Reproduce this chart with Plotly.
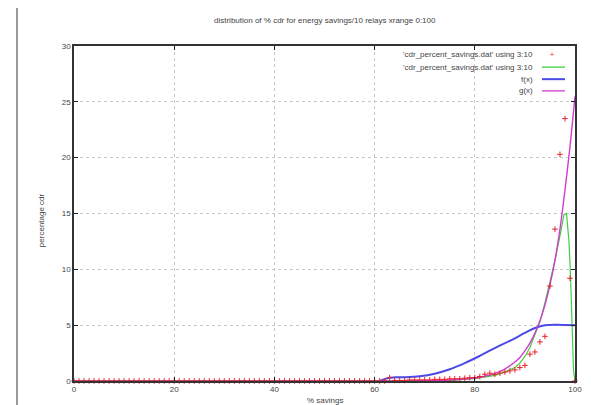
import plotly.graph_objects as go

# ---- data ----
pts_x = list(range(0, 101))
pts_y = [
    0, 0, 0, 0, 0, 0, 0, 0, 0, 0,
    0, 0, 0, 0, 0, 0, 0, 0, 0, 0,
    0, 0, 0, 0, 0, 0, 0, 0, 0, 0,
    0, 0, 0, 0, 0, 0, 0, 0, 0, 0,
    0, 0, 0, 0, 0, 0, 0, 0, 0, 0,
    0, 0, 0, 0, 0, 0, 0, 0, 0, 0,
    0, 0, 0, 0.3, 0.05, 0.05, 0.05, 0.1, 0.1, 0.1,
    0.1, 0.1, 0.15, 0.15, 0.15, 0.2, 0.2, 0.2, 0.25, 0.3,
    0.3, 0.4, 0.6, 0.7, 0.6, 0.7, 0.8, 0.9, 1.0, 1.2,
    1.4, 2.4, 2.6, 3.5, 4.0, 8.5, 13.6, 20.3, 23.5, 9.2,
    0,
]

smooth_x = [0, 60, 70, 75, 80, 84, 86, 88, 89, 90, 91, 92, 93, 94, 95, 96, 97,
            97.8, 98.3, 98.8, 99.1, 99.4, 99.7, 100]
smooth_y = [0, 0, 0.02, 0.05, 0.2, 0.5, 0.8, 1.2, 1.6, 2.2, 3.0, 4.1, 5.3, 7.0,
            8.8, 10.8, 13.0, 14.9, 15.0, 12.5, 9.5, 5.0, 1.0, 0]

f_x = [61, 63, 66, 69, 72, 75, 78, 81, 84, 87, 90, 92, 94, 100]
f_y = [0, 0.3, 0.33, 0.42, 0.65, 1.05, 1.6, 2.25, 2.95, 3.6, 4.3, 4.75, 5.0, 5.0]

g_x = [0, 60, 70, 75, 80, 82, 84, 86, 88, 89, 90, 91, 92, 93, 94, 95, 96, 97,
       98, 99, 99.5, 100]
g_y = [0, 0.01, 0.03, 0.09, 0.27, 0.43, 0.68, 1.07, 1.7, 2.1, 2.7, 3.4, 4.3,
       5.4, 6.8, 8.6, 10.8, 13.6, 17.1, 21.0, 23.2, 25.5]

x_ticks = [0, 20, 40, 60, 80, 100]
y_ticks = [0, 5, 10, 15, 20, 25, 30]

title_text = "distribution of % cdr for energy savings/10 relays xrange 0:100"
x_title = "% savings"
y_title = "percentage cdr"
legend_labels = ["'cdr_percent_savings.dat' using 3:10",
                 "'cdr_percent_savings.dat' using 3:10",
                 "f(x)", "g(x)"]

RED = "#e8202a"
GREEN = "#3fcf3f"
BLUE = "#4a4ae6"
MAGENTA = "#d23ad2"
FONT = dict(family="Liberation Sans, Arial, sans-serif", size=8, color="#444")

fig = go.Figure()
fig.add_trace(go.Scatter(x=smooth_x, y=smooth_y, mode="lines",
                         line=dict(color=GREEN, width=1.2), showlegend=False))
fig.add_trace(go.Scatter(x=f_x, y=f_y, mode="lines", line_shape="spline",
                         line=dict(color=BLUE, width=2), showlegend=False))
fig.add_trace(go.Scatter(x=g_x, y=g_y, mode="lines", line_shape="spline",
                         line=dict(color=MAGENTA, width=1.4), showlegend=False))
fig.add_trace(go.Scatter(x=pts_x, y=pts_y, mode="markers",
                         marker=dict(symbol="cross-thin", size=4,
                                     line=dict(color=RED, width=1)),
                         showlegend=False, cliponaxis=False))

# manual gnuplot-style key (text right, sample left)
rows_y = [0.976, 0.937, 0.901, 0.866]
colors = [RED, GREEN, BLUE, MAGENTA]
annotations = []
shapes = []
for i, lab in enumerate(legend_labels):
    annotations.append(dict(x=0.92, y=rows_y[i], xref="paper", yref="paper",
                            text=lab, showarrow=False, xanchor="right",
                            yanchor="middle", font=FONT))
    if i == 0:
        annotations.append(dict(x=0.955, y=rows_y[i], xref="paper", yref="paper",
                                text="+", showarrow=False, xanchor="center",
                                yanchor="middle",
                                font=dict(family=FONT["family"], size=7, color=RED)))
    else:
        shapes.append(dict(type="line", xref="paper", yref="paper",
                           x0=0.934, x1=0.98, y0=rows_y[i], y1=rows_y[i],
                           line=dict(color=colors[i], width=2 if i == 2 else 1.3)))

annotations.append(dict(x=0.5, y=1.075, xref="paper", yref="paper", text=title_text,
                        showarrow=False, xanchor="center", yanchor="middle", font=FONT))
annotations.append(dict(x=0.5, y=-0.058, xref="paper", yref="paper", text=x_title,
                        showarrow=False, xanchor="center", yanchor="middle", font=FONT))
annotations.append(dict(x=-0.066, y=0.48, xref="paper", yref="paper", text=y_title,
                        showarrow=False, xanchor="center", yanchor="middle",
                        textangle=-90, font=FONT))

# page border lines
for px in [-0.1138, 1.036]:
    shapes.append(dict(type="line", xref="paper", yref="paper", x0=px, x1=px,
                       y0=-0.12, y1=1.14, line=dict(color="#9a9a9a", width=2)))

fig.update_layout(
    width=591, height=405,
    margin=dict(l=66, r=24, t=38, b=32),
    paper_bgcolor="white", plot_bgcolor="white",
    annotations=annotations, shapes=shapes,
    font=FONT,
)
fig.update_xaxes(range=[0, 100], tickvals=x_ticks, ticks="inside", ticklen=4,
                 tickcolor="#222", showline=True, linecolor="#333", linewidth=1.5,
                 mirror="ticks", showgrid=True, gridcolor="#c8c8c8", griddash="dot",
                 gridwidth=1, zeroline=False, tickfont=FONT)
fig.update_yaxes(range=[0, 30], tickvals=y_ticks, ticks="inside", ticklen=4,
                 tickcolor="#222", showline=True, linecolor="#333", linewidth=1.5,
                 mirror="ticks", showgrid=True, gridcolor="#c8c8c8", griddash="dot",
                 gridwidth=1, zeroline=False, tickfont=FONT)

fig.write_html("out.html")
